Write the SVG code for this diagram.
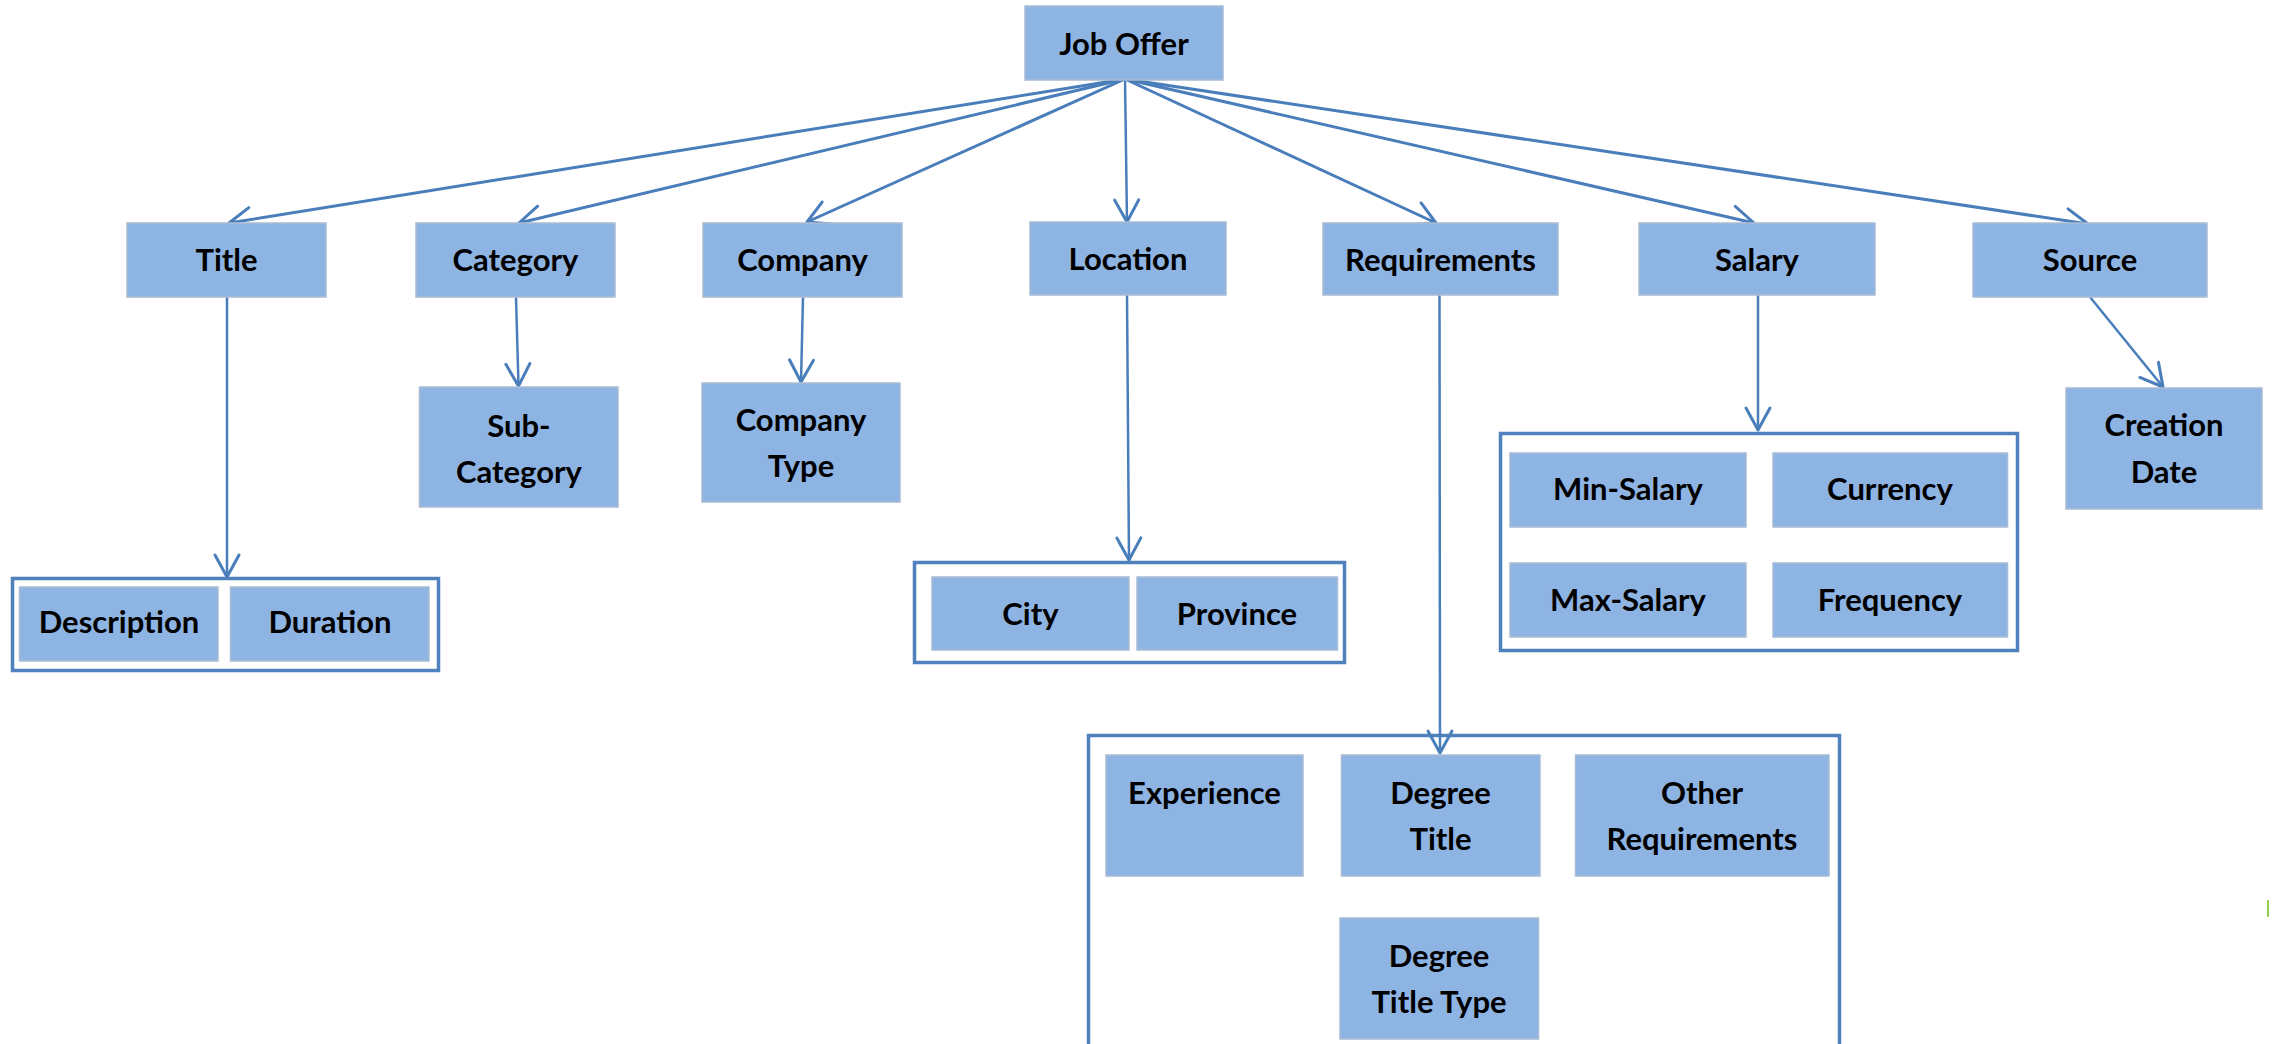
<svg xmlns="http://www.w3.org/2000/svg" width="2272" height="1044" viewBox="0 0 2272 1044">
  <defs>
    <style>
      .box { fill: #8EB4E3; stroke: #A9BCD4; stroke-width: 1.5; }
      .cont { fill: none; stroke: #4F81BD; stroke-width: 3.5; }
      .lbl { font-family: Lato, "Liberation Sans", sans-serif; font-weight: bold; font-size: 31px; fill: #000; text-anchor: middle; }
      .conn { fill: none; stroke: #4A7EBB; stroke-width: 3; marker-end: url(#arr); }
      .connv { fill: none; stroke: #4A7EBB; stroke-width: 2.5; marker-end: url(#arr); }
    </style>
    <marker id="arr" viewBox="-25 -14 27 28" refX="0" refY="0" markerWidth="27" markerHeight="28" markerUnits="userSpaceOnUse" orient="auto" overflow="visible">
      <path d="M -22 -12 L 0 0 L -22 12" fill="none" stroke="#4A7EBB" stroke-width="3" stroke-linecap="round" stroke-linejoin="round"/>
    </marker>
  </defs>
  <rect width="2272" height="1044" fill="#FFFFFF"/>

  <g id="containers">
    <rect id="title-group" class="cont" x="12.5" y="578.5" width="426" height="92"/>
    <rect id="location-group" class="cont" x="914.5" y="562.5" width="430" height="100"/>
    <rect id="salary-group" class="cont" x="1500.5" y="433.5" width="517" height="217"/>
    <rect id="requirements-group" class="cont" x="1088.5" y="735.5" width="751" height="330"/>
  </g>

  <g id="connectors">
    <line class="conn" x1="1125" y1="79" x2="229" y2="223"/>
    <line class="conn" x1="1125" y1="79" x2="519" y2="223"/>
    <line class="conn" x1="1125" y1="79" x2="807" y2="222"/>
    <line class="connv" x1="1125" y1="79" x2="1127" y2="222"/>
    <line class="conn" x1="1125" y1="79" x2="1436" y2="223"/>
    <line class="conn" x1="1125" y1="79" x2="1754" y2="223"/>
    <line class="conn" x1="1125" y1="79" x2="2088" y2="224"/>
    <line class="connv" x1="227" y1="297" x2="227" y2="577"/>
    <line class="connv" x1="516" y1="297" x2="518.5" y2="386"/>
    <line class="connv" x1="803" y1="297" x2="801" y2="382"/>
    <line class="connv" x1="1127" y1="295" x2="1129" y2="560"/>
    <line class="connv" x1="1439.5" y1="295" x2="1440" y2="753"/>
    <line class="connv" x1="1758" y1="295" x2="1758" y2="430"/>
    <line class="connv" x1="2090" y1="297" x2="2163" y2="387"/>
  </g>

  <g id="job-offer">
    <rect class="box" x="1025" y="6" width="198" height="74"/>
    <text class="lbl" x="1124" y="55">Job Offer</text>
  </g>
  <g id="title">
    <rect class="box" x="127" y="223" width="199" height="74"/>
    <text class="lbl" x="226.5" y="271">Title</text>
  </g>
  <g id="category">
    <rect class="box" x="416" y="223" width="199" height="74"/>
    <text class="lbl" x="515.5" y="271">Category</text>
  </g>
  <g id="company">
    <rect class="box" x="703" y="223" width="199" height="74"/>
    <text class="lbl" x="802.5" y="271">Company</text>
  </g>
  <g id="location">
    <rect class="box" x="1030" y="222" width="196" height="73"/>
    <text class="lbl" x="1128" y="270">Location</text>
  </g>
  <g id="requirements">
    <rect class="box" x="1323" y="223" width="235" height="72"/>
    <text class="lbl" x="1440.5" y="271">Requirements</text>
  </g>
  <g id="salary">
    <rect class="box" x="1639" y="223" width="236" height="72"/>
    <text class="lbl" x="1757" y="271">Salary</text>
  </g>
  <g id="source">
    <rect class="box" x="1973" y="223" width="234" height="74"/>
    <text class="lbl" x="2090" y="271">Source</text>
  </g>

  <g id="sub-category">
    <rect class="box" x="419.5" y="387" width="198.5" height="120"/>
    <text class="lbl" x="519" y="437">Sub-</text>
    <text class="lbl" x="519" y="483">Category</text>
  </g>
  <g id="company-type">
    <rect class="box" x="702" y="383" width="198" height="119"/>
    <text class="lbl" x="801" y="431">Company</text>
    <text class="lbl" x="801" y="477">Type</text>
  </g>

  <g id="description">
    <rect class="box" x="19.5" y="587" width="198.5" height="74"/>
    <text class="lbl" x="119" y="633">Description</text>
  </g>
  <g id="duration">
    <rect class="box" x="230.5" y="587" width="198.5" height="74"/>
    <text class="lbl" x="330" y="633">Duration</text>
  </g>

  <g id="city">
    <rect class="box" x="932" y="577" width="197" height="73"/>
    <text class="lbl" x="1030.5" y="625">City</text>
  </g>
  <g id="province">
    <rect class="box" x="1137" y="577" width="200.5" height="73"/>
    <text class="lbl" x="1237" y="625">Province</text>
  </g>

  <g id="min-salary">
    <rect class="box" x="1510" y="453" width="236" height="74"/>
    <text class="lbl" x="1628" y="500">Min-Salary</text>
  </g>
  <g id="currency">
    <rect class="box" x="1773" y="453" width="234.5" height="74"/>
    <text class="lbl" x="1890" y="500">Currency</text>
  </g>
  <g id="max-salary">
    <rect class="box" x="1510" y="563" width="236" height="74"/>
    <text class="lbl" x="1628" y="611">Max-Salary</text>
  </g>
  <g id="frequency">
    <rect class="box" x="1773" y="563" width="234.5" height="74"/>
    <text class="lbl" x="1890" y="611">Frequency</text>
  </g>

  <g id="creation-date">
    <rect class="box" x="2066" y="388" width="196" height="121"/>
    <text class="lbl" x="2164" y="436">Creation</text>
    <text class="lbl" x="2164" y="483">Date</text>
  </g>

  <g id="experience">
    <rect class="box" x="1106" y="755" width="197" height="121"/>
    <text class="lbl" x="1204.5" y="804">Experience</text>
  </g>
  <g id="degree-title">
    <rect class="box" x="1341.5" y="755" width="198.5" height="121"/>
    <text class="lbl" x="1440.5" y="804">Degree</text>
    <text class="lbl" x="1440.5" y="850">Title</text>
  </g>
  <g id="other-requirements">
    <rect class="box" x="1575.5" y="755" width="253.5" height="121"/>
    <text class="lbl" x="1702" y="804">Other</text>
    <text class="lbl" x="1702" y="850">Requirements</text>
  </g>
  <g id="degree-title-type">
    <rect class="box" x="1340" y="918" width="198.5" height="121"/>
    <text class="lbl" x="1439" y="967">Degree</text>
    <text class="lbl" x="1439" y="1013">Title Type</text>
  </g>

  <line x1="2268" y1="900" x2="2268" y2="917" stroke="#92D050" stroke-width="2"/>
</svg>
